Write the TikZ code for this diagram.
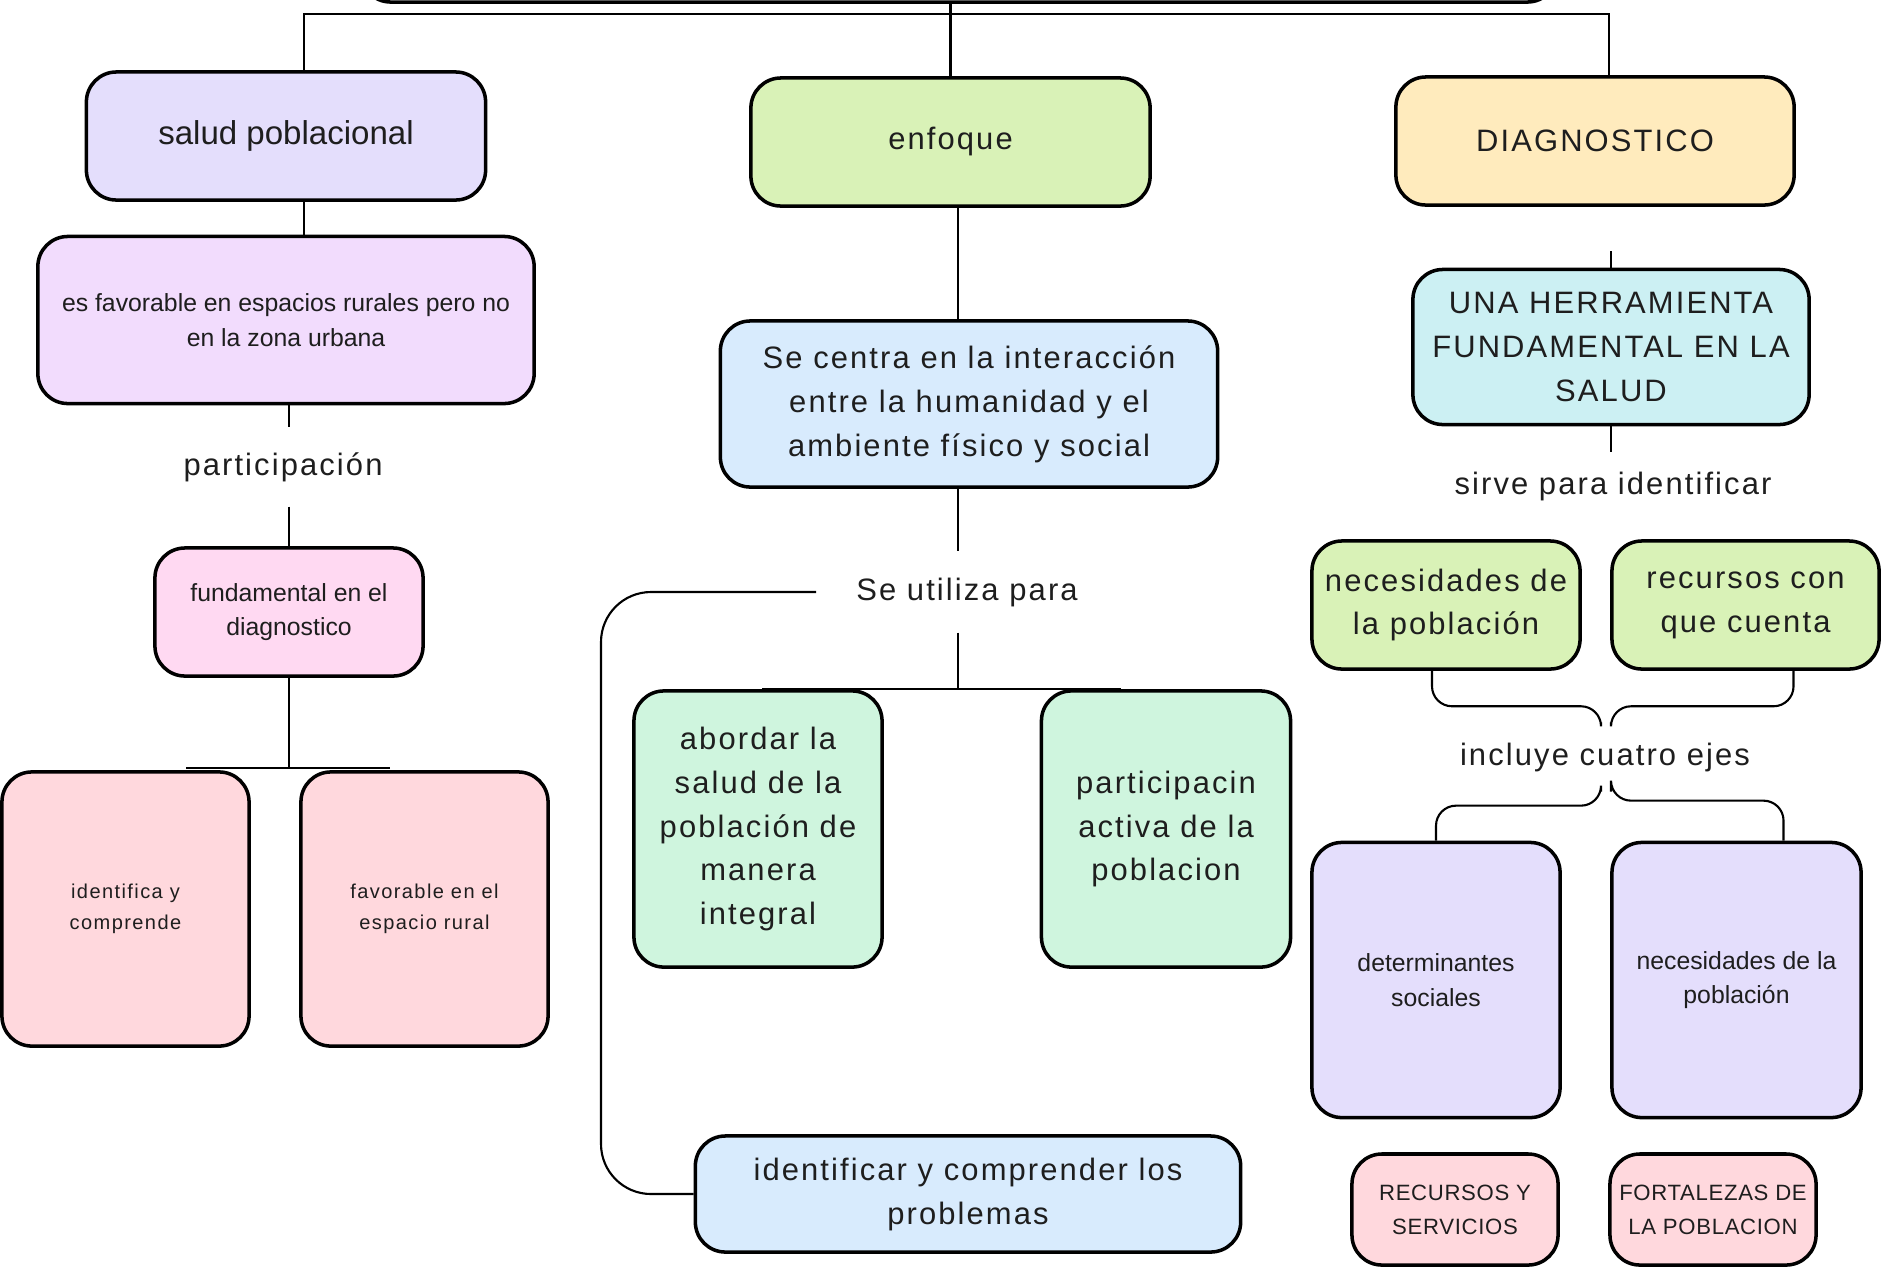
\documentclass[tikz,border=0pt]{standalone}
\usepackage{fontspec}
\setmainfont{Liberation Sans}
\newfontfamily\widefont[LetterSpace=6.8]{Liberation Sans}
\newfontfamily\tinywide[LetterSpace=7]{Liberation Sans}
\newfontfamily\capsfont[LetterSpace=3]{Liberation Sans}
\definecolor{txt}{HTML}{1E1E1E}
\definecolor{lila}{HTML}{E4DEFC}
\definecolor{verde}{HTML}{D9F2B7}
\definecolor{amarillo}{HTML}{FFEBBD}
\definecolor{malva}{HTML}{F2DCFD}
\definecolor{rosa}{HTML}{FFD9F2}
\definecolor{salmon}{HTML}{FFD8DD}
\definecolor{celeste}{HTML}{D8EBFD}
\definecolor{menta}{HTML}{CFF5DE}
\definecolor{cian}{HTML}{CCF0F3}
\tikzset{
  box/.style={draw=black, line width=1pt, rounded corners=0.3cm, align=center, text=txt, inner sep=2pt},
  bigtxt/.style={font=\widefont\fontsize{8.8}{12.5}\selectfont},
  smalltxt/.style={font=\fontsize{7.05}{9.8}\selectfont},
  tinytxt/.style={font=\tinywide\fontsize{5.7}{8.8}\selectfont},
  capstxt/.style={font=\capsfont\fontsize{6.3}{9.7}\selectfont},
  lbl/.style={fill=white, text=txt, align=center, inner sep=0pt, bigtxt},
  link/.style={line width=0.6pt, black},
}

\begin{document}
\begin{tikzpicture}[x=0.01cm,y=-0.01cm]
\useasboundingbox (0,0) rectangle (1885,1269);
% fila superior
\node[box, fill=white, minimum width=11.96cm, minimum height=1.02cm] (top) at (959,-49) {};
\node[box, fill=lila, minimum width=3.99cm, minimum height=1.28cm, font=\fontsize{9.4}{12}\selectfont] (salud) at (286,136) {salud poblacional};
\node[box, fill=verde, minimum width=3.99cm, minimum height=1.28cm, bigtxt] (enfoque) at (950.5,142) {enfoque};
\node[box, fill=amarillo, minimum width=3.98cm, minimum height=1.28cm, bigtxt] (diag) at (1595,141) {DIAGNOSTICO};

% columna izquierda
\node[box, fill=malva, minimum width=4.96cm, minimum height=1.67cm, smalltxt] (esfav) at (286,320) {es favorable en espacios rurales pero no\\en la zona urbana};
\node[lbl, minimum width=3cm, minimum height=0.78cm] (partic) at (283,467) {participación};
\node[box, fill=rosa, minimum width=2.68cm, minimum height=1.28cm, smalltxt] (fund) at (289,612) {fundamental en el\\diagnostico};
\node[box, fill=salmon, minimum width=2.47cm, minimum height=2.74cm, tinytxt] (ident) at (125.5,909) {identifica y\\comprende};
\node[box, fill=salmon, minimum width=2.47cm, minimum height=2.74cm, tinytxt] (favor) at (424.5,909) {favorable en el\\espacio rural};

% columna central
\node[box, fill=celeste, minimum width=4.97cm, minimum height=1.66cm, bigtxt] (centra) at (969,404) {Se centra en la interacción\\entre la humanidad y el\\ambiente físico y social};
\node[lbl, minimum width=3cm, minimum height=0.8cm] (utiliza) at (967,592) {Se utiliza para};
\node[box, fill=menta, minimum width=2.48cm, minimum height=2.76cm, bigtxt] (abordar) at (758,829) {abordar la\\salud de la\\población de\\manera\\integral};
\node[box, fill=menta, minimum width=2.49cm, minimum height=2.76cm, bigtxt] (activa) at (1166,829) {participacin\\activa de la\\poblacion};
\node[box, fill=celeste, minimum width=5.45cm, minimum height=1.16cm, bigtxt] (identif) at (968,1194) {identificar y comprender los\\problemas};

% columna derecha
\node[box, fill=cian, minimum width=3.96cm, minimum height=1.55cm, bigtxt] (herr) at (1611,347) {UNA HERRAMIENTA\\FUNDAMENTAL EN LA\\SALUD};
\node[lbl, minimum width=3.2cm, minimum height=0.66cm] (sirve) at (1613,486) {sirve para identificar};
\node[box, fill=verde, minimum width=2.68cm, minimum height=1.28cm, bigtxt] (necA) at (1446,605) {necesidades de\\la población};
\node[box, fill=verde, minimum width=2.67cm, minimum height=1.28cm, bigtxt] (recA) at (1745.5,605) {recursos con\\que cuenta};
\node[lbl, minimum width=4.2cm, minimum height=0.68cm] (incl) at (1605,757) {incluye cuatro ejes};
\node[box, fill=lila, minimum width=2.48cm, minimum height=2.75cm, smalltxt] (det) at (1436,980) {determinantes\\sociales};
\node[box, fill=lila, minimum width=2.49cm, minimum height=2.75cm, smalltxt] (necB) at (1736.5,980) {necesidades de la\\población};
\node[box, fill=salmon, minimum width=2.06cm, minimum height=1.11cm, capstxt] (recB) at (1455,1209.5) {RECURSOS Y\\SERVICIOS};
\node[box, fill=salmon, minimum width=2.06cm, minimum height=1.11cm, capstxt] (fort) at (1713,1209.5) {FORTALEZAS DE\\LA POBLACION};

% conectores
\coordinate (hubL) at (304,14);
\coordinate (hubR) at (1609,14);
\coordinate (spine) at (958,689);
\coordinate (utilL) at (762,689);
\coordinate (utilR) at (1121,689);
\coordinate (fundL) at (186,768);
\coordinate (fundR) at (390,768);
\coordinate (loop) at (601,592);
\coordinate (diagstub) at (1611,251);

\draw[link] (top.south -| enfoque.north) -- (enfoque.north);
\draw[link] (salud.north -| hubL) -- (hubL) -- (hubR) -- (diag.north -| hubR);
\draw[link] (salud.south -| hubL) -- (esfav.north -| hubL);
\draw[link] (fund.north |- esfav.south) -- (fund.north |- partic.north);
\draw[link] (fund.north |- partic.south) -- (fund.north);
\draw[link] (fund.south) -- (fund.south |- fundL);
\draw[link] (fundL) -- (fundR);

\draw[link] (enfoque.south -| spine) -- (centra.north -| spine);
\draw[link] (centra.south -| spine) -- (utiliza.north -| spine);
\draw[link] (utiliza.south -| spine) -- (spine);
\draw[link] (utilL) -- (utilR);
\draw[link, rounded corners=0.5cm] (utiliza.west) -- (loop) -- (loop |- identif.west) -- (identif.west);

\draw[link] (diagstub) -- (herr.north);
\draw[link] (herr.south) -- (herr.south |- sirve.north);
\draw[link, rounded corners=0.2cm] ([xshift=-0.14cm]necA.south) |- ([xshift=-0.04cm,yshift=0.16cm]incl.north) -- ([xshift=-0.04cm]incl.north);
\draw[link, rounded corners=0.2cm] ([xshift=0.48cm]recA.south) |- ([xshift=0.06cm,yshift=0.16cm]incl.north) -- ([xshift=0.06cm]incl.north);
\draw[link, rounded corners=0.2cm] ([xshift=-0.04cm]incl.south) |- ([yshift=0.35cm]det.north) -- (det.north);
\draw[link, rounded corners=0.2cm] ([xshift=0.06cm]incl.south) |- ([xshift=0.47cm,yshift=0.4cm]necB.north) -- ([xshift=0.47cm]necB.north);
\end{tikzpicture}
\end{document}
